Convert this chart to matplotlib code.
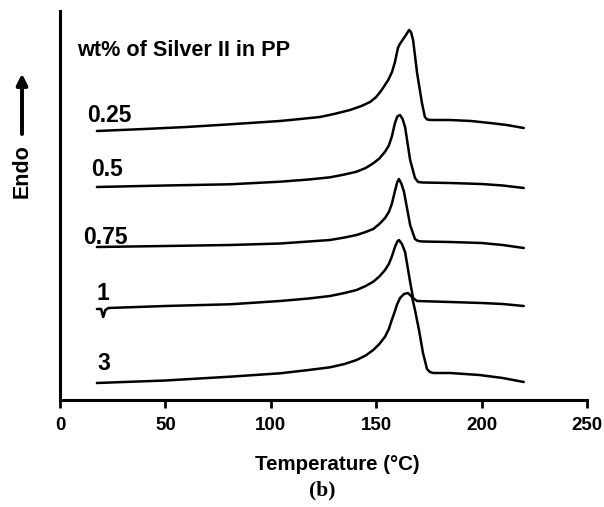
import matplotlib.pyplot as plt

# DSC traces (arbitrary endo-up units, offset per sample)
t_025 = [17.5, 40, 60, 80.6, 104.4, 114, 123.3, 130, 137.6, 143, 147.1, 150, 152.6, 155.7,
         157.5, 158.9, 160.3, 161.2, 162.2, 164.1, 165.6, 166.5, 167.5, 169.4, 171.7, 173.1,
         174.2, 176, 185, 195, 204, 212, 220]
y_025 = [269, 271, 273, 275.7, 279, 281, 283, 286, 290, 294, 298, 303, 310, 320,
         328, 338, 352, 356, 359, 365, 370, 368, 360, 327, 297, 283,
         280.5, 280, 280, 279, 277, 275, 272]

t_05 = [17.5, 50, 80.6, 104.4, 118, 128.1, 135, 140.7, 145, 148.6, 151.5, 154.2, 156,
        157.4, 158.9, 160, 161.3, 162.5, 163.7, 166.1, 168.4, 169.9, 172, 185, 200, 210, 220]
y_05 = [213, 214.5, 215.7, 218.3, 220.5, 222.7, 225.5, 228.3, 232, 236.7, 241.5, 248.3, 254.5,
        263.3, 277, 283.5, 285, 281, 273, 240, 222, 218, 217.5, 217, 216, 214.5, 212]

t_075 = [17.5, 50, 80.6, 104.4, 118, 128.1, 135, 140.7, 145, 148.6, 151.5, 154.2, 156,
         157.4, 158.9, 160, 160.8, 162, 163.2, 166.1, 168.4, 169.9, 172, 185, 200, 210, 220]
y_075 = [153, 154, 155, 156.5, 158.5, 160, 162.5, 165, 168, 171, 176, 182, 188,
         196, 209, 218, 221, 216, 208, 175, 161, 159, 158.5, 158, 157, 155, 152]

t_1 = [17.5, 19.5, 20.5, 21.5, 23, 50, 80.6, 104.4, 118, 128.1, 135, 140.7, 145, 148.6,
       151.5, 154.2, 156, 157.4, 158.9, 160, 160.8, 162.2, 163.7, 166.1, 167.5, 169.4,
       185, 200, 210, 220]
y_1 = [91, 91, 83, 90, 92, 94, 95.7, 99, 101.5, 104, 107, 110, 114, 118.3,
       123.5, 130, 136, 143.3, 153, 158.5, 160, 156, 148, 118, 102, 99,
       98, 97, 96, 94]

t_3 = [17.5, 50, 80.6, 104.4, 118, 128.1, 135, 140.7, 145, 148.6, 151.5, 154.2, 156,
       157.4, 158.9, 159.8, 161.3, 163.2, 165.1, 167.0, 168.4, 170.3, 172.2, 174.1, 175.5,
       177, 185, 199, 210, 220]
y_3 = [17, 19.5, 23.3, 26.7, 30, 32.7, 36, 40, 44.5, 50, 56, 63.3, 71,
       80, 89, 95, 102, 106, 107, 103, 90, 70, 47, 31, 28,
       27, 27, 25, 22, 18]

curves = [(t_025, y_025), (t_05, y_05), (t_075, y_075), (t_1, y_1), (t_3, y_3)]
labels = ['0.25', '0.5', '0.75', '1', '3']
label_pos = [(13.0, 285), (15.0, 230), (11.2, 163), (17.4, 107), (17.8, 37)]

plt.rcParams['font.family'] = ['Liberation Sans', 'DejaVu Sans']
plt.rcParams['font.weight'] = 'bold'

fig = plt.figure(figsize=(6.04, 5.07), dpi=100)
ax = fig.add_axes([60 / 604, (507 - 400) / 507, (587 - 60) / 604, (400 - 11) / 507])

for t, y in curves:
    ax.plot(t, y, color='black', lw=1.8, solid_joinstyle='round', solid_capstyle='round')

for lab, (x, y) in zip(labels, label_pos):
    ax.text(x, y, lab, fontsize=16.5, fontweight='bold', ha='left', va='center')

ax.text(8, 350, 'wt% of Silver II in PP', fontsize=15.6, fontweight='bold',
        ha='left', va='center')

ax.set_xlim(0, 250)
ax.set_ylim(0, 389)
ax.set_xticks([0, 50, 100, 150, 200, 250])
ax.set_yticks([])
ax.spines['top'].set_visible(False)
ax.spines['right'].set_visible(False)
ax.spines['left'].set_linewidth(2.2)
ax.spines['bottom'].set_linewidth(2.2)
ax.tick_params(axis='x', direction='out', length=6, width=2.0, labelsize=13.5, pad=6)
for lbl in ax.get_xticklabels():
    lbl.set_fontweight('bold')

fig.text(337.5 / 604, 1 - 465 / 507, 'Temperature (\u00b0C)', fontsize=14.8,
         fontweight='bold', ha='center', va='center')

# Endo label with upward arrow
fig.text(22 / 604, 1 - 171 / 507, 'Endo', rotation=90, fontsize=15.5, fontweight='bold',
         ha='center', va='center')
fig.add_artist(plt.annotate('', xy=(22 / 604, 1 - 74 / 507), xycoords='figure fraction',
                            xytext=(22 / 604, 1 - 134 / 507), textcoords='figure fraction',
                            arrowprops=dict(arrowstyle='-|>', color='black', lw=2.6,
                                            mutation_scale=16, shrinkA=0, shrinkB=0)))

fig.text(322.5 / 604, 1 - 490 / 507, '(b)', fontsize=15.5, fontweight='bold',
         family=['Liberation Serif', 'DejaVu Serif'], ha='center', va='center')

fig.savefig('out.png', dpi=100)
